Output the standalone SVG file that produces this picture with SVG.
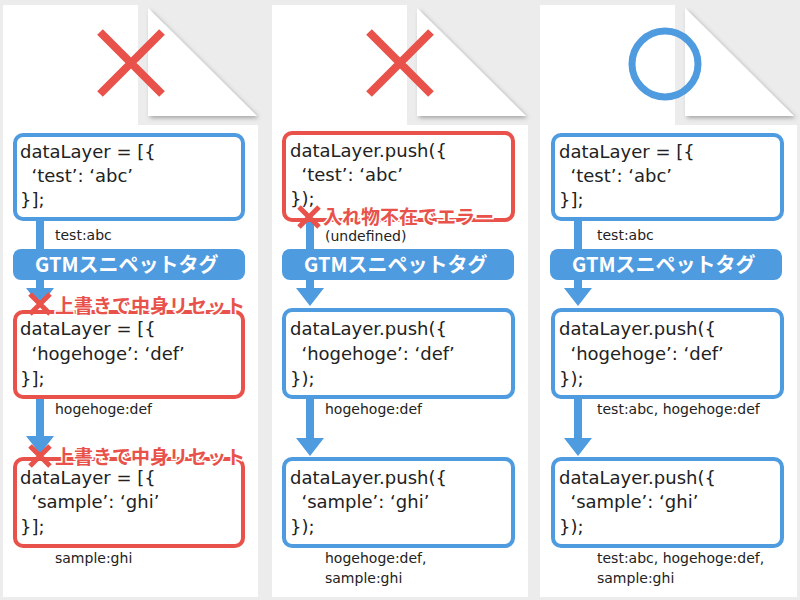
<svg xmlns="http://www.w3.org/2000/svg" width="800" height="600" viewBox="0 0 800 600">
<defs>
<style>
.pg{fill:#fff}
.fold{fill:#fff;filter:url(#sh)}
.bb{fill:#fff;stroke:#4f9be0;stroke-width:4}
.rb{fill:#fff;stroke:#e8524a;stroke-width:4}
.code{font-family:"DejaVu Sans","Noto Sans CJK JP",sans-serif;font-size:18px;fill:#222;white-space:pre}
.lbl{font-family:"DejaVu Sans","Noto Sans CJK JP",sans-serif;font-size:14px;fill:#222}
.bar{fill:#4f9be0}
.bt{font-family:"Noto Sans CJK JP",sans-serif;font-size:20px;font-weight:bold;fill:#fff}
.ln{stroke:#4f9be0;stroke-width:8;fill:none}
.ah{fill:#4f9be0}
.xx{stroke:#e8524a;stroke-width:8;fill:none}
.xs{stroke:#e8524a;stroke-width:5;fill:none}
.err{font-family:"Noto Sans CJK JP",sans-serif;font-size:19px;font-weight:bold;fill:#e8524a;stroke:#fff;stroke-width:3;paint-order:stroke}
</style>
<filter id="sh" x="-10%" y="-10%" width="130%" height="130%"><feDropShadow dx="2" dy="2" stdDeviation="2" flood-color="#000" flood-opacity="0.3"/></filter>
</defs>
<rect width="800" height="600" fill="#ececec"/>
<g id="pages">
<path class="pg" d="M3 5H138V125H258V597H3Z"/>
<path class="fold" d="M148 8L257 116H148Z"/>
<path class="pg" d="M272 5H407V125H528V597H272Z"/>
<path class="fold" d="M417 8L526 116H417Z"/>
<path class="pg" d="M540 5H675V125H797V597H540Z"/>
<path class="fold" d="M685 8L794 116H685Z"/>
<path class="xx" d="M100 32L162 94M162 32L100 94"/>
<path class="xx" d="M369 32L431 94M431 32L369 94"/>
<circle cx="665" cy="64" r="33" fill="none" stroke="#4f9be0" stroke-width="7"/>
</g>
<g id="connectors">
<path class="ln" d="M40 219V250M40 279V290M40 397V438M310 220V250M310 279V290M310 397V440M578 220V250M578 279V290M578 397V440"/>
<path class="ah" d="M26 288H54L40 306ZM26 436H54L40 454ZM296 288H324L310 306ZM296 438H324L310 456ZM564 288H592L578 306ZM564 438H592L578 456Z"/>
</g>
<g id="p1">
<g id="n1a"><rect class="bb" x="15" y="135" width="228" height="84" rx="8"/>
<text class="code" x="20" y="158">dataLayer = [{</text><text class="code" x="20" y="182" xml:space="preserve">  ‘test’: ‘abc’</text><text class="code" x="20" y="206">}];</text></g>
<text class="lbl" x="55" y="240">test:abc</text>
<g id="g1"><rect class="bar" x="13" y="249" width="232" height="31" rx="8"/><text class="bt" x="35" y="272">GTMスニペットタグ</text></g>
<g id="n1b"><rect class="rb" x="15" y="312" width="228" height="85" rx="8"/>
<text class="code" x="20" y="335">dataLayer = [{</text><text class="code" x="20" y="360" xml:space="preserve">  ‘hogehoge’: ‘def’</text><text class="code" x="20" y="385">}];</text></g>
<text class="lbl" x="55" y="414">hogehoge:def</text>
<g id="n1c"><rect class="rb" x="15" y="459" width="228" height="87" rx="8"/>
<text class="code" x="20" y="484">dataLayer = [{</text><text class="code" x="20" y="508" xml:space="preserve">  ‘sample’: ‘ghi’</text><text class="code" x="20" y="533">}];</text></g>
<text class="lbl" x="55" y="563">sample:ghi</text>
<path class="xs" d="M30 294L50 314M50 294L30 314"/><text class="err" x="55" y="313">上書きで中身リセット</text>
<path class="xs" d="M30 446L50 466M50 446L30 466"/><text class="err" x="55" y="464">上書きで中身リセット</text>
</g>
<g id="p2">
<g id="n2a"><rect class="rb" x="284" y="133" width="229" height="87" rx="8"/>
<text class="code" x="290" y="157">dataLayer.push({</text><text class="code" x="290" y="181" xml:space="preserve">  ‘test’: ‘abc’</text><text class="code" x="290" y="205">});</text></g>
<path class="xs" d="M299 207L319 227M319 207L299 227"/><text class="err" x="323" y="224">入れ物不在でエラー</text>
<text class="lbl" x="325" y="241">(undefined)</text>
<g id="g2"><rect class="bar" x="282" y="249" width="232" height="31" rx="8"/><text class="bt" x="304" y="272">GTMスニペットタグ</text></g>
<g id="n2b"><rect class="bb" x="284" y="310" width="229" height="87" rx="8"/>
<text class="code" x="290" y="335">dataLayer.push({</text><text class="code" x="290" y="360" xml:space="preserve">  ‘hogehoge’: ‘def’</text><text class="code" x="290" y="385">});</text></g>
<text class="lbl" x="325" y="414">hogehoge:def</text>
<g id="n2c"><rect class="bb" x="284" y="459" width="229" height="87" rx="8"/>
<text class="code" x="290" y="484">dataLayer.push({</text><text class="code" x="290" y="508" xml:space="preserve">  ‘sample’: ‘ghi’</text><text class="code" x="290" y="533">});</text></g>
<text class="lbl" x="325" y="563">hogehoge:def,</text><text class="lbl" x="325" y="583">sample:ghi</text>
</g>
<g id="p3">
<g id="n3a"><rect class="bb" x="553" y="135" width="229" height="84" rx="8"/>
<text class="code" x="559" y="158">dataLayer = [{</text><text class="code" x="559" y="182" xml:space="preserve">  ‘test’: ‘abc’</text><text class="code" x="559" y="206">}];</text></g>
<text class="lbl" x="597" y="240">test:abc</text>
<g id="g3"><rect class="bar" x="550" y="249" width="232" height="31" rx="8"/><text class="bt" x="572" y="272">GTMスニペットタグ</text></g>
<g id="n3b"><rect class="bb" x="553" y="310" width="229" height="87" rx="8"/>
<text class="code" x="559" y="335">dataLayer.push({</text><text class="code" x="559" y="360" xml:space="preserve">  ‘hogehoge’: ‘def’</text><text class="code" x="559" y="385">});</text></g>
<text class="lbl" x="597" y="414">test:abc, hogehoge:def</text>
<g id="n3c"><rect class="bb" x="553" y="459" width="229" height="87" rx="8"/>
<text class="code" x="559" y="484">dataLayer.push({</text><text class="code" x="559" y="508" xml:space="preserve">  ‘sample’: ‘ghi’</text><text class="code" x="559" y="533">});</text></g>
<text class="lbl" x="597" y="563">test:abc, hogehoge:def,</text><text class="lbl" x="597" y="583">sample:ghi</text>
</g>
</svg>
